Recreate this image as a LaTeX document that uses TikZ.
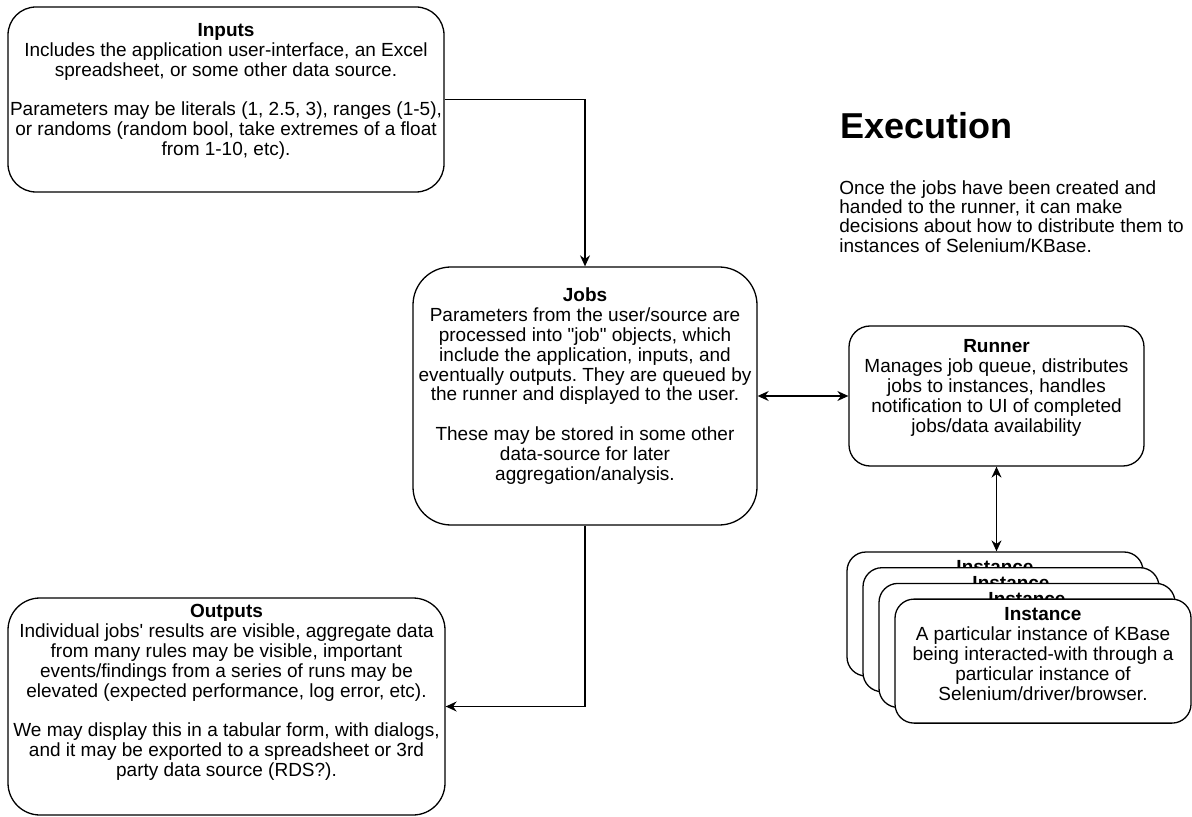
\documentclass[tikz,border=0pt]{standalone}
\usepackage{fontspec}
\setmainfont{Liberation Sans}[Ligatures=TeXOff]
\usetikzlibrary{arrows.meta,calc}
\frenchspacing

\begin{document}
\begin{tikzpicture}[
    x=0.5pt, y=-0.5pt,
    font=\fontsize{9.5}{9.9}\selectfont,
    box/.style={draw, fill=white, line width=0.65pt, inner sep=0pt},
    txt/.style={align=center, inner sep=0pt},
    arr/.style={-{Stealth[length=5.5pt,width=5pt,inset=1.8pt]}, line width=0.65pt},
    dbl/.style={{Stealth[length=5.5pt,width=5pt,inset=1.8pt]}-{Stealth[length=5.5pt,width=5pt,inset=1.8pt]}, line width=0.65pt},
  ]
  \useasboundingbox (0,0) rectangle (1192,817);

  % main boxes
  \node[box, minimum width=218pt, minimum height=92.5pt, rounded corners=14pt] (inputs) at (226,99.5) {};
  \node[txt] (inputs-txt) at ($(inputs.center)+(0,-8)$) {\textbf{Inputs}\\
    Includes the application user-interface, an Excel\\
    spreadsheet, or some other data source.\\[9.9pt]
    Parameters may be literals (1, 2.5, 3), ranges (1-5),\\
    or randoms (random bool, take extremes of a float\\
    from 1-10, etc).};

  \node[box, minimum width=172pt, minimum height=129pt, rounded corners=19pt] (jobs) at (585,396) {};
  \node[txt] (jobs-txt) at ($(jobs.center)+(0,-10)$) {\textbf{Jobs}\\
    Parameters from the user/source are\\
    processed into "job" objects, which\\
    include the application, inputs, and\\
    eventually outputs. They are queued by\\
    the runner and displayed to the user.\\[9.9pt]
    These may be stored in some other\\
    data-source for later\\
    aggregation/analysis.};

  \node[box, minimum width=147.5pt, minimum height=70pt, rounded corners=10.5pt] (runner) at (996.5,396) {};
  \node[txt] (runner-txt) at ($(runner.center)+(0,-8)$) {\textbf{Runner}\\
    Manages job queue, distributes\\
    jobs to instances, handles\\
    notification to UI of completed\\
    jobs/data availability};

  \node[box, minimum width=218.5pt, minimum height=108.5pt, rounded corners=16pt] (outputs) at (226.5,706.5) {};
  \node[txt] (outputs-txt) at ($(outputs.center)+(0,-14)$) {\textbf{Outputs}\\
    Individual jobs' results are visible, aggregate data\\
    from many rules may be visible, important\\
    events/findings from a series of runs may be\\
    elevated (expected performance, log error, etc).\\[9.9pt]
    We may display this in a tabular form, with dialogs,\\
    and it may be exported to a spreadsheet or 3rd\\
    party data source (RDS?).};

  % stacked instances
  \foreach \k in {0,...,3} {
    \node[box, minimum width=148pt, minimum height=62pt, rounded corners=9.5pt] (inst\k) at (995+16*\k,614+15.7*\k) {};
    \node[txt] (inst\k-txt) at ($(inst\k.center)+(0,-7)$) {\textbf{Instance}\\
      A particular instance of KBase\\
      being interacted-with through a\\
      particular instance of\\
      Selenium/driver/browser.};
  }

  % heading
  \node[anchor=base west, inner sep=0pt, font=\fontsize{18}{20}\selectfont\bfseries] (exec) at (840,139) {Execution};
  \node[anchor=north west, inner sep=0pt, align=left, font=\fontsize{9.5}{9.7}\selectfont] (exec-txt) at (839,180) {Once the jobs have been created and\\
    handed to the runner, it can make\\
    decisions about how to distribute them to\\
    instances of Selenium/KBase.};

  % connectors
  \draw[arr] (inputs.east) -| (jobs.north);
  \draw[arr] (jobs.south) |- (outputs.east);
  \draw[dbl] (jobs.east) -- (runner.west);
  \draw[dbl] (runner.south) -- (runner.south |- inst0.north);
\end{tikzpicture}
\end{document}
